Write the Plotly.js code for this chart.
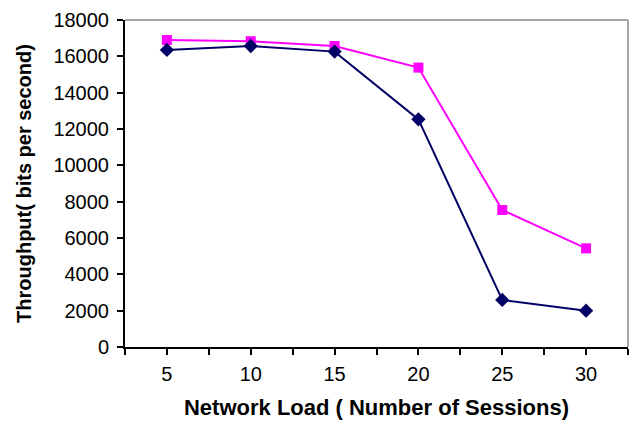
<!DOCTYPE html>
<html>
<head>
<meta charset="utf-8">
<script src="https://cdn.plot.ly/plotly-3.0.1.min.js"></script>
<style>html,body{margin:0;padding:0;background:#fff;}#chart{width:629px;height:424px;}</style>
</head>
<body>
<div id="chart"></div>
<script>
const sessions = [5, 10, 15, 20, 25, 30];
const seriesA = [16350, 16570, 16260, 12530, 2590, 2000];
const seriesB = [16900, 16830, 16570, 15380, 7540, 5430];
const xTickVals = [2.5, 5, 7.5, 10, 12.5, 15, 17.5, 20, 22.5, 25, 27.5, 30, 32.5];
const xTickText = ['', '5', '', '10', '', '15', '', '20', '', '25', '', '30', ''];
const yTickVals = [0, 2000, 4000, 6000, 8000, 10000, 12000, 14000, 16000, 18000];
const yTickText = ['0', '2000', '4000', '6000', '8000', '10000', '12000', '14000', '16000', '18000'];

const traces = [
  {x: sessions, y: seriesB, mode: 'lines+markers', type: 'scatter',
   line: {color: '#ff00ff', width: 2}, marker: {symbol: 'square', size: 10, color: '#ff00ff'}},
  {x: sessions, y: seriesA, mode: 'lines+markers', type: 'scatter',
   line: {color: '#000066', width: 2}, marker: {symbol: 'diamond', size: 11, color: '#000066'}}
];

const layout = {
  width: 629, height: 424,
  margin: {l: 125, r: 1, t: 20, b: 77},
  paper_bgcolor: '#fff', plot_bgcolor: '#fff',
  showlegend: false,
  font: {family: 'Liberation Sans, Arial, sans-serif', color: '#000', size: 20},
  xaxis: {range: [2.5, 32.5], tickmode: 'array', tickvals: xTickVals, ticktext: xTickText,
    ticks: 'outside', ticklen: 6, tickwidth: 2, tickcolor: '#000', ticklabelstandoff: 2,
    showline: true, linecolor: '#000', linewidth: 2, showgrid: false, zeroline: false,
    title: {text: 'Network Load ( Number of Sessions)', font: {size: 22, weight: 'bold'}, standoff: 16}},
  yaxis: {range: [0, 18000], tickmode: 'array', tickvals: yTickVals, ticktext: yTickText,
    ticks: 'outside', ticklen: 6, tickwidth: 2, tickcolor: '#000', ticklabelstandoff: 4,
    showline: true, linecolor: '#000', linewidth: 2, showgrid: false, zeroline: false,
    title: {text: 'Throughput( bits per second)', font: {size: 20, weight: 'bold'}, standoff: 16}},
  shapes: [
    {type: 'line', xref: 'paper', yref: 'paper', x0: 0, x1: 1, y0: 1, y1: 1, line: {color: '#a6a6a6', width: 2}, layer: 'below'},
    {type: 'line', xref: 'paper', yref: 'paper', x0: 1, x1: 1, y0: 0, y1: 1, line: {color: '#a6a6a6', width: 2}, layer: 'below'}
  ]
};
Plotly.newPlot('chart', traces, layout, {displayModeBar: false, staticPlot: true});
</script>
</body>
</html>
